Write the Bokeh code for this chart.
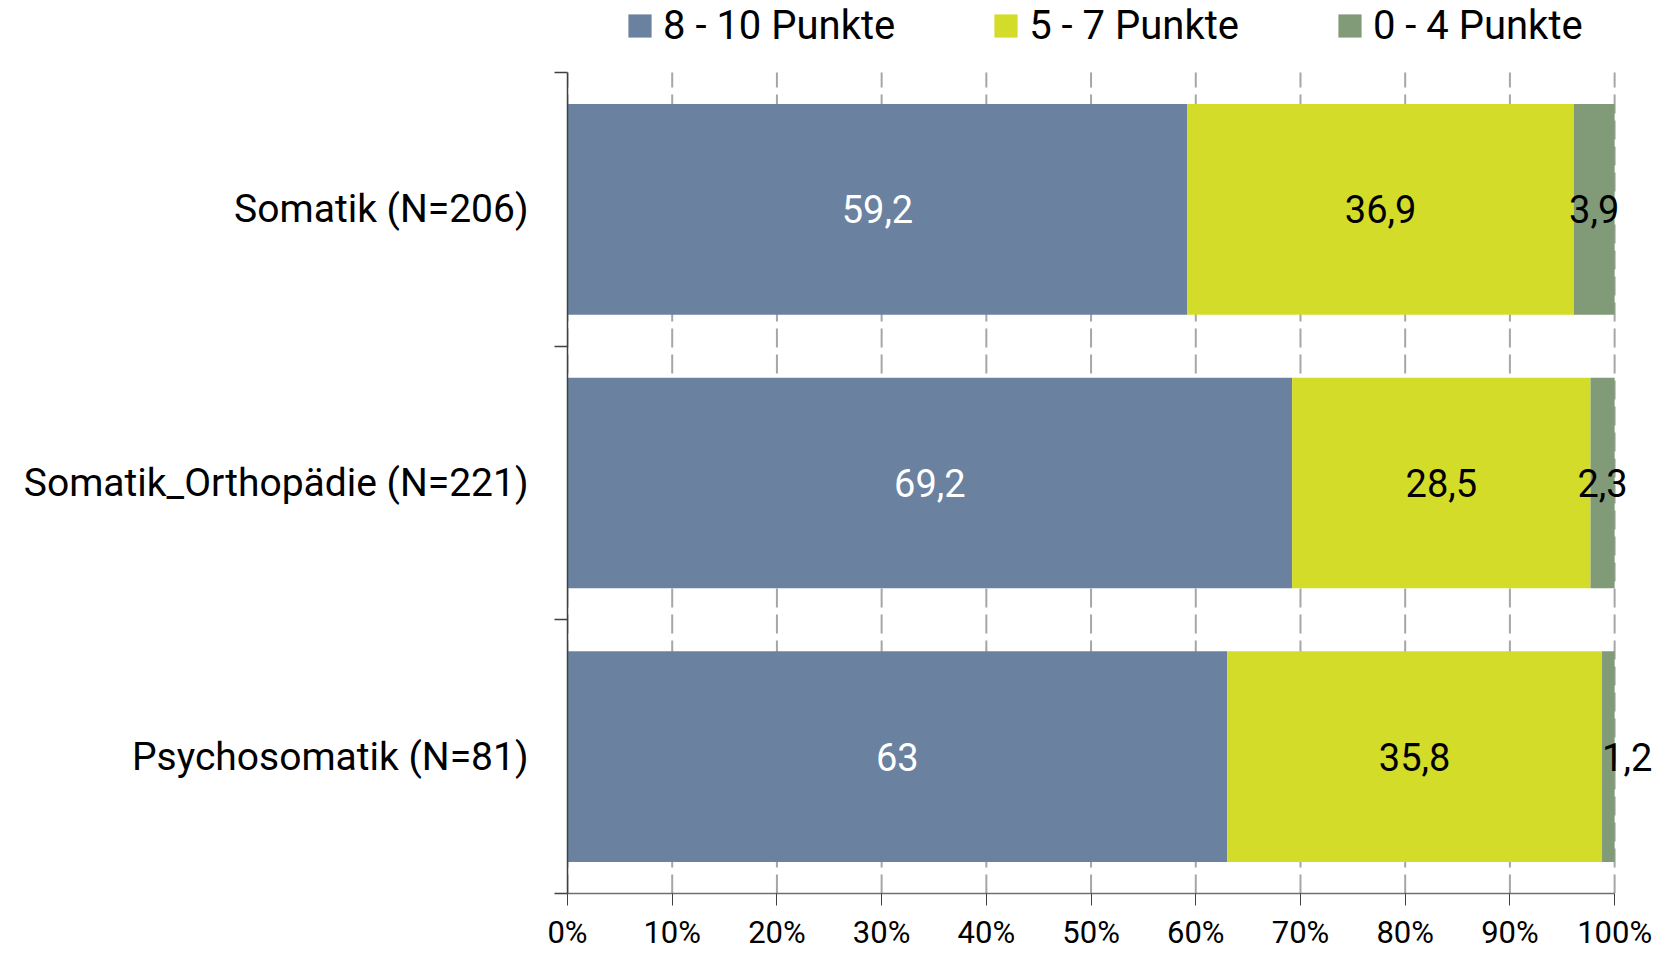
from bokeh.plotting import figure
from bokeh.models import (FixedTicker, Range1d, ColumnDataSource, Legend, LegendItem,
                          PrintfTickFormatter)
from bokeh.embed import file_html
from bokeh.resources import INLINE
from bokeh.core.properties import value

# ---- data ----
categories = ["Somatik (N=206)", "Somatik_Orthopädie (N=221)", "Psychosomatik (N=81)"]
series_names = ["8 - 10 Punkte", "5 - 7 Punkte", "0 - 4 Punkte"]
high = [59.2, 69.2, 63.0]
mid = [36.9, 28.5, 35.8]
low = [3.9, 2.3, 1.2]
x_ticks = [0, 10, 20, 30, 40, 50, 60, 70, 80, 90, 100]

colors = ["#6A82A0", "#D4DC2A", "#819A78"]
label_colors = ["#FFFFFF", "#000000", "#000000"]
FONT = "Roboto"

n = len(categories)
ypos = [n - 0.5 - i for i in range(n)]

# frame spans whole height above the x axis; the top strip holds the legend
H, BOTTOM, TOP_STRIP = 953, 60, 72
y_top = n * (H - BOTTOM) / (H - BOTTOM - TOP_STRIP)

p = figure(width=1663, height=H, x_range=Range1d(0, 104), y_range=Range1d(0, y_top),
           output_backend="svg", toolbar_location=None,
           min_border_left=567, min_border_right=7, min_border_top=0, min_border_bottom=BOTTOM)
p.outline_line_color = None
p.background_fill_color = "#FFFFFF"
p.xgrid.visible = False
p.ygrid.visible = False

# ---- vertical dashed grid lines (only over the category area) ----
p.segment(x0=x_ticks, x1=x_ticks, y0=[0] * len(x_ticks), y1=[n] * len(x_ticks),
          line_color="#A6A6A6", line_dash="19 7", line_width=2)

src = ColumnDataSource(dict(y=ypos, cat=categories, high=high, mid=mid, low=low))
renderers = p.hbar_stack(["high", "mid", "low"], y="y", height=0.77, color=colors,
                         line_color=None, source=src)

# ---- data labels ----
def fmt(v):
    return f"{v:g}".replace(".", ",")

series = [high, mid, low]
cx, cy, ct, cc = [], [], [], []
lx, ly, lt, lc = [], [], [], []
for i in range(n):
    start = 0.0
    for s, vals in enumerate(series):
        v = vals[i]
        if v < 2:
            lx.append(start); ly.append(ypos[i]); lt.append(fmt(v)); lc.append(label_colors[s])
        else:
            cx.append(start + v / 2); cy.append(ypos[i]); ct.append(fmt(v)); cc.append(label_colors[s])
        start += v

p.text(x=cx, y=cy, text=ct, text_color=cc, text_align="center", text_baseline="middle",
       text_font=value(FONT), text_font_size="38px")
p.text(x=lx, y=ly, text=lt, text_color=lc, text_align="left", text_baseline="middle",
       text_font=value(FONT), text_font_size="38px")

# ---- x axis ----
xa = p.xaxis[0]
xa.ticker = FixedTicker(ticks=x_ticks)
xa.formatter = PrintfTickFormatter(format="%d%%")
xa.bounds = (0, 100)
xa.axis_line_color = "#707070"
xa.axis_line_width = 1.5
xa.major_tick_in = 0
xa.major_tick_out = 12
xa.major_tick_line_color = "#404040"
xa.minor_tick_line_color = None
xa.major_label_text_font = FONT
xa.major_label_text_font_size = "31px"
xa.major_label_text_color = "#000000"
xa.major_label_standoff = 8

# ---- y axis ----
ya = p.yaxis[0]
ya.ticker = FixedTicker(ticks=ypos, minor_ticks=list(range(n + 1)))
ya.bounds = (0, n)
ya.major_label_overrides = {y: c for y, c in zip(ypos, categories)}
ya.major_tick_line_color = None
ya.major_tick_in = 0
ya.major_tick_out = 0
ya.minor_tick_in = 0
ya.minor_tick_out = 13
ya.minor_tick_line_color = "#404040"
ya.minor_tick_line_width = 1.5
ya.axis_line_color = "#404040"
ya.axis_line_width = 1.5
ya.major_label_text_font = FONT
ya.major_label_text_font_size = "39px"
ya.major_label_text_color = "#000000"
ya.major_label_standoff = 26

# ---- legend ----
legend = Legend(items=[LegendItem(label=s, renderers=[r]) for s, r in zip(series_names, renderers)],
                orientation="horizontal", location=(58, 844))
legend.label_text_font = FONT
legend.label_text_font_size = "40px"
legend.label_text_color = "#000000"
legend.glyph_width = 29
legend.glyph_height = 29
legend.label_standoff = 9
legend.spacing = 96
legend.padding = 0
legend.margin = 0
legend.border_line_color = None
legend.background_fill_alpha = 0
p.add_layout(legend, "center")

open("out.html", "w").write(file_html(p, INLINE))
